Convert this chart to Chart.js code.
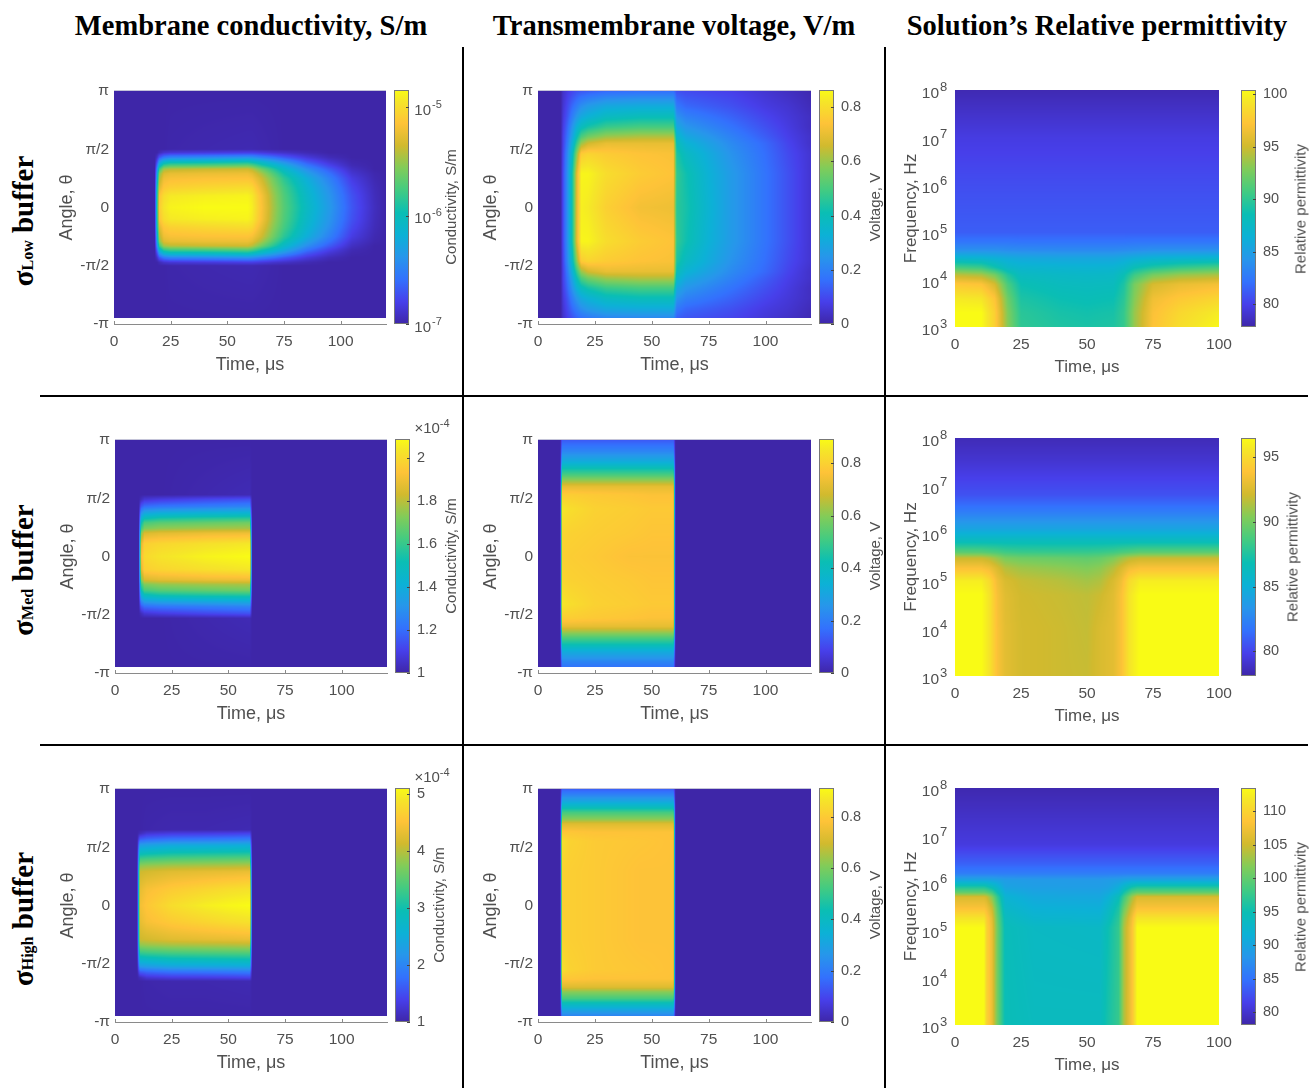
<!DOCTYPE html>
<html>
<head>
<meta charset="utf-8">
<script src="https://cdn.jsdelivr.net/npm/chart.js@4"></script>
<style>
html, body { margin: 0; padding: 0; background: #fff; }
#page { position: relative; width: 1316px; height: 1088px; overflow: hidden; }
#page canvas { position: absolute; }
.txt { position: absolute; white-space: nowrap; transform: translate(-50%, -50%); }
.rule { position: absolute; background: #000; }
</style>
</head>
<body>
<div id="page"></div>
<script>
// tick values and labels
var timeTicks = [0, 25, 50, 75, 100];
var angleTicks = [Math.PI, Math.PI / 2, 0, -Math.PI / 2, -Math.PI];
var angleLabels = ['π', 'π/2', '0', '-π/2', '-π'];
var freqTicks = [1e3, 1e4, 1e5, 1e6, 1e7, 1e8];
var freqExponents = ['3', '4', '5', '6', '7', '8'];
var logCondTicks = [1e-7, 1e-6, 1e-5];
var logCondExponents = ['-7', '-6', '-5'];
var voltTicks = [0, 0.2, 0.4, 0.6, 0.8];
var condMedTicks = [1, 1.2, 1.4, 1.6, 1.8, 2];
var condHighTicks = [1, 2, 3, 4, 5];
var permLowTicks = [80, 85, 90, 95, 100];
var permMedTicks = [80, 85, 90, 95];
var permHighTicks = [80, 85, 90, 95, 100, 105, 110];

var columnTitles = ['Membrane conductivity, S/m', 'Transmembrane voltage, V/m', 'Solution’s Relative permittivity'];
var rowNames = ['Low', 'Med', 'High'];

// parula colour stops
var parulaStops = [
    [0, 62, 38, 168], [0.095, 71, 63, 234], [0.19, 51, 113, 253], [0.286, 39, 150, 235],
    [0.38, 12, 177, 214], [0.476, 10, 190, 180], [0.571, 66, 203, 130], [0.667, 129, 204, 89],
    [0.762, 209, 186, 46], [0.857, 254, 195, 56], [0.952, 245, 230, 40], [1, 249, 251, 21]
];

// low buffer, membrane conductivity (log10 S/m); rows are |angle| / pi
var condLowTimes = [0, 18, 19, 20, 22, 25, 40, 59, 61, 65, 70, 75, 85, 95, 105, 115, 120];
var condLowRows = [0, 0.1, 0.17, 0.25, 0.29, 0.33, 0.36, 0.39, 0.43, 0.47, 0.5, 1];
var condLowValues = [
    [-7, -7, -5.9, -5.1, -4.95, -4.88, -4.84, -4.84, -4.9, -5.15, -5.45, -5.7, -6.05, -6.35, -6.7, -6.93, -7],
    [-7, -7, -5.95, -5.15, -5, -4.93, -4.9, -4.88, -4.93, -5.17, -5.47, -5.72, -6.08, -6.38, -6.72, -6.94, -7],
    [-7, -7, -6, -5.3, -5.12, -5.07, -5.03, -5, -5.03, -5.25, -5.52, -5.76, -6.12, -6.42, -6.76, -6.95, -7],
    [-7, -7, -6.2, -5.45, -5.22, -5.18, -5.16, -5.15, -5.18, -5.35, -5.6, -5.85, -6.2, -6.5, -6.82, -6.97, -7],
    [-7, -7, -6.3, -5.55, -5.3, -5.25, -5.23, -5.22, -5.27, -5.45, -5.7, -5.95, -6.3, -6.58, -6.87, -6.98, -7],
    [-7, -7, -6.45, -5.8, -5.48, -5.42, -5.38, -5.36, -5.42, -5.62, -5.85, -6.08, -6.42, -6.68, -6.92, -7, -7],
    [-7, -7, -6.6, -6.1, -5.8, -5.72, -5.7, -5.65, -5.7, -5.88, -6.05, -6.22, -6.55, -6.78, -6.96, -7, -7],
    [-7, -7, -6.75, -6.35, -6.1, -6.02, -6, -5.95, -6, -6.1, -6.25, -6.4, -6.68, -6.86, -6.98, -7, -7],
    [-7, -7, -6.9, -6.7, -6.55, -6.48, -6.45, -6.4, -6.42, -6.5, -6.58, -6.68, -6.84, -6.95, -7, -7, -7],
    [-7, -7, -7, -6.95, -6.88, -6.85, -6.83, -6.8, -6.8, -6.83, -6.87, -6.9, -6.96, -7, -7, -7, -7],
    [-7, -7, -7, -7, -7, -6.99, -6.98, -6.97, -6.97, -6.98, -6.99, -7, -7, -7, -7, -7, -7],
    [-7, -7, -7, -7, -7, -7, -7, -7, -7, -7, -7, -7, -7, -7, -7, -7, -7]
];

// low buffer, voltage (V)
var voltLowTimes = [0, 10, 11, 13, 15, 17, 19, 22, 30, 45, 59.5, 61, 65, 75, 85, 100, 110, 120];
var voltLowRows = [0, 0.29, 0.46, 0.55, 0.61, 0.69, 0.78, 0.87, 1];
var voltLowValues = [
    [0, 0, 0.1, 0.24, 0.42, 0.68, 0.84, 0.83, 0.77, 0.72, 0.71, 0.46, 0.43, 0.34, 0.26, 0.17, 0.11, 0.05],
    [0, 0, 0.1, 0.24, 0.42, 0.68, 0.85, 0.85, 0.8, 0.76, 0.74, 0.47, 0.42, 0.33, 0.26, 0.17, 0.11, 0.05],
    [0, 0, 0.09, 0.22, 0.37, 0.58, 0.76, 0.78, 0.76, 0.74, 0.73, 0.44, 0.38, 0.31, 0.24, 0.16, 0.1, 0.05],
    [0, 0, 0.08, 0.19, 0.32, 0.47, 0.6, 0.66, 0.7, 0.7, 0.7, 0.4, 0.34, 0.28, 0.22, 0.15, 0.09, 0.04],
    [0, 0, 0.08, 0.17, 0.28, 0.4, 0.5, 0.55, 0.6, 0.62, 0.62, 0.36, 0.3, 0.25, 0.2, 0.13, 0.08, 0.04],
    [0, 0, 0.07, 0.15, 0.24, 0.33, 0.39, 0.43, 0.48, 0.5, 0.5, 0.3, 0.25, 0.21, 0.17, 0.11, 0.07, 0.03],
    [0, 0, 0.06, 0.12, 0.19, 0.25, 0.3, 0.33, 0.38, 0.4, 0.4, 0.24, 0.2, 0.17, 0.14, 0.09, 0.06, 0.03],
    [0, 0, 0.05, 0.1, 0.15, 0.19, 0.23, 0.26, 0.3, 0.31, 0.31, 0.18, 0.15, 0.13, 0.11, 0.07, 0.05, 0.02],
    [0, 0, 0.04, 0.07, 0.09, 0.11, 0.12, 0.13, 0.15, 0.16, 0.16, 0.11, 0.1, 0.09, 0.08, 0.05, 0.03, 0.01]
];

// low buffer, relative permittivity; rows are log10 Hz
var permLowTimes = [0, 10, 15, 20, 25, 40, 50, 60, 64, 68, 75, 85, 100];
var permLowRows = [3, 3.3, 3.6, 3.9, 4.1, 4.25, 4.45, 4.62, 4.8, 5, 6, 7, 8];
var permLowValues = [
    [100.4, 100.4, 98, 93, 90, 89.4, 89.2, 89.4, 90.2, 93.5, 97.2, 98.8, 100.2],
    [100.4, 100.4, 98, 92.8, 89.8, 89.1, 88.9, 89.1, 90.2, 93.5, 97, 98.4, 99.6],
    [99.5, 99.3, 97.3, 92.2, 89.3, 88.6, 88.4, 88.6, 89.8, 93, 96.5, 97.5, 98.3],
    [97.5, 97.2, 95.3, 91, 88.6, 88, 87.9, 88, 89.3, 92.5, 95.3, 96.2, 96.7],
    [94.5, 94, 92.5, 89.5, 87.8, 87.5, 87.4, 87.5, 88.5, 90.5, 92.5, 93.5, 94],
    [91, 90.5, 89, 87.5, 87, 86.8, 86.7, 86.8, 87.3, 88.5, 89.5, 90.3, 91],
    [87, 86.8, 86.4, 86, 85.7, 85.5, 85.5, 85.5, 85.8, 86.2, 86.6, 86.8, 87],
    [84, 84, 84, 83.8, 83.7, 83.6, 83.6, 83.6, 83.7, 83.8, 84, 84, 84],
    [82.4, 82.4, 82.4, 82.4, 82.3, 82.3, 82.3, 82.3, 82.3, 82.4, 82.4, 82.4, 82.4],
    [81.3, 81.3, 81.3, 81.3, 81.3, 81.3, 81.3, 81.3, 81.3, 81.3, 81.3, 81.3, 81.3],
    [80.6, 80.6, 80.6, 80.6, 80.6, 80.6, 80.6, 80.6, 80.6, 80.6, 80.6, 80.6, 80.6],
    [79.7, 79.7, 79.7, 79.7, 79.7, 79.7, 79.7, 79.7, 79.7, 79.7, 79.7, 79.7, 79.7],
    [78.2, 78.2, 78.2, 78.2, 78.2, 78.2, 78.2, 78.2, 78.2, 78.2, 78.2, 78.2, 78.2]
];

// med buffer, conductivity (x 1e-4 S/m)
var condMedTimes = [0, 10.5, 11.5, 13, 20, 40, 59.5, 60.5, 120];
var condMedRows = [0, 0.11, 0.2, 0.24, 0.29, 0.33, 0.37, 0.43, 0.49, 0.53, 1];
var condMedValues = [
    [1, 1, 1.9, 2, 2.03, 2.07, 2.09, 1, 1],
    [1, 1, 1.85, 1.97, 1.99, 2.02, 2.04, 1, 1],
    [1, 1, 1.72, 1.85, 1.87, 1.89, 1.9, 1, 1],
    [1, 1, 1.6, 1.72, 1.75, 1.77, 1.78, 1, 1],
    [1, 1, 1.5, 1.63, 1.66, 1.68, 1.7, 1, 1],
    [1, 1, 1.4, 1.5, 1.54, 1.56, 1.57, 1, 1],
    [1, 1, 1.3, 1.38, 1.41, 1.43, 1.44, 1, 1],
    [1, 1, 1.15, 1.2, 1.22, 1.24, 1.26, 1, 1],
    [1, 1, 1.03, 1.07, 1.09, 1.12, 1.14, 1, 1],
    [1, 1, 1, 1, 1, 1.01, 1.02, 1, 1],
    [1, 1, 1, 1, 1, 1, 1, 1, 1]
];

// med buffer, voltage (V)
var voltMedTimes = [0, 9.8, 10.6, 14, 25, 40, 50, 59.5, 60.5, 120];
var voltMedRows = [0, 0.2, 0.41, 0.53, 0.6, 0.64, 0.7, 0.76, 0.81, 0.9, 1];
var voltMedValues = [
    [0, 0, 0.8, 0.79, 0.78, 0.76, 0.76, 0.76, 0, 0],
    [0, 0, 0.81, 0.8, 0.79, 0.78, 0.77, 0.77, 0, 0],
    [0, 0, 0.85, 0.83, 0.8, 0.79, 0.78, 0.78, 0, 0],
    [0, 0, 0.79, 0.79, 0.78, 0.77, 0.76, 0.76, 0, 0],
    [0, 0, 0.72, 0.72, 0.72, 0.72, 0.72, 0.72, 0, 0],
    [0, 0, 0.64, 0.64, 0.64, 0.64, 0.64, 0.64, 0, 0],
    [0, 0, 0.52, 0.52, 0.52, 0.52, 0.52, 0.52, 0, 0],
    [0, 0, 0.42, 0.42, 0.42, 0.42, 0.42, 0.42, 0, 0],
    [0, 0, 0.33, 0.33, 0.33, 0.33, 0.33, 0.33, 0, 0],
    [0, 0, 0.22, 0.22, 0.22, 0.22, 0.22, 0.22, 0, 0],
    [0, 0, 0.13, 0.13, 0.13, 0.13, 0.13, 0.13, 0, 0]
];

// med buffer, relative permittivity
var permMedTimes = [0, 10, 13, 16, 19, 25, 40, 50, 55, 60, 63, 66, 70, 100];
var permMedRows = [3, 4, 4.7, 5, 5.27, 5.48, 5.6, 5.83, 6.1, 6.46, 6.8, 7.5, 8];
var permMedValues = [
    [96.5, 96.5, 95.5, 93.7, 92.8, 92.2, 92, 91.9, 92.4, 92.8, 93.7, 95.5, 96.5, 96.5],
    [96.5, 96.5, 95.5, 93.7, 92.8, 92.2, 92, 91.8, 92.4, 92.8, 93.7, 95.5, 96.5, 96.5],
    [96.5, 96.5, 95.5, 93.6, 92.7, 92.1, 91.9, 91.7, 92, 92.7, 93.7, 95.5, 96.5, 96.5],
    [95.9, 95.9, 95, 93.3, 92.4, 91.9, 91.5, 91.1, 91.4, 92.4, 93.3, 95, 95.9, 95.9],
    [93.7, 93.7, 93.3, 92.4, 91.5, 91, 90.6, 90.3, 90.6, 91.5, 92.4, 93.3, 93.7, 93.7],
    [91.9, 91.9, 91.5, 90.8, 90.1, 89.8, 89.6, 89.4, 89.6, 90.2, 90.9, 91.5, 91.9, 91.9],
    [89.3, 89.2, 89, 88.8, 88.5, 88.3, 88.2, 88.2, 88.3, 88.5, 88.8, 89, 89.3, 89.3],
    [86.5, 86.5, 86.5, 86.5, 86.5, 86.5, 86.5, 86.5, 86.5, 86.5, 86.5, 86.5, 86.5, 86.5],
    [84.2, 84.2, 84.2, 84.2, 84.2, 84.2, 84.2, 84.2, 84.2, 84.2, 84.2, 84.2, 84.2, 84.2],
    [82.1, 82.1, 82.1, 82.1, 82.1, 82.1, 82.1, 82.1, 82.1, 82.1, 82.1, 82.1, 82.1, 82.1],
    [80.5, 80.5, 80.5, 80.5, 80.5, 80.5, 80.5, 80.5, 80.5, 80.5, 80.5, 80.5, 80.5, 80.5],
    [79.2, 79.2, 79.2, 79.2, 79.2, 79.2, 79.2, 79.2, 79.2, 79.2, 79.2, 79.2, 79.2, 79.2],
    [78.5, 78.5, 78.5, 78.5, 78.5, 78.5, 78.5, 78.5, 78.5, 78.5, 78.5, 78.5, 78.5, 78.5]
];

// high buffer, conductivity (x 1e-4 S/m)
var condHighTimes = [0, 9.8, 11, 14, 25, 40, 50, 59.5, 60.5, 120];
var condHighRows = [0, 0.14, 0.29, 0.34, 0.4, 0.46, 0.52, 0.57, 0.62, 0.65, 1];
var condHighValues = [
    [1, 1, 4.4, 4.55, 4.8, 4.98, 5.05, 5.1, 1, 1],
    [1, 1, 4.3, 4.45, 4.6, 4.72, 4.8, 4.85, 1, 1],
    [1, 1, 4.1, 4.15, 4.25, 4.3, 4.32, 4.35, 1, 1],
    [1, 1, 3.8, 3.85, 3.92, 3.95, 3.97, 4, 1, 1],
    [1, 1, 3.3, 3.35, 3.42, 3.46, 3.48, 3.5, 1, 1],
    [1, 1, 2.75, 2.8, 2.9, 2.93, 2.95, 2.97, 1, 1],
    [1, 1, 2.25, 2.3, 2.42, 2.44, 2.46, 2.48, 1, 1],
    [1, 1, 1.6, 1.7, 1.8, 1.82, 1.85, 1.88, 1, 1],
    [1, 1, 1.1, 1.25, 1.32, 1.34, 1.36, 1.4, 1, 1],
    [1, 1, 1, 1.02, 1.04, 1.04, 1.05, 1.06, 1, 1],
    [1, 1, 1, 1, 1, 1, 1, 1, 1, 1]
];

// high buffer, voltage (V)
var voltHighTimes = [0, 9.8, 10.6, 14, 25, 45, 59.5, 60.5, 120];
var voltHighRows = [0, 0.3, 0.55, 0.63, 0.7, 0.74, 0.8, 0.84, 0.9, 0.96, 1];
var voltHighValues = [
    [0, 0, 0.81, 0.81, 0.8, 0.78, 0.78, 0, 0],
    [0, 0, 0.82, 0.81, 0.8, 0.78, 0.78, 0, 0],
    [0, 0, 0.85, 0.82, 0.8, 0.79, 0.78, 0, 0],
    [0, 0, 0.79, 0.79, 0.78, 0.78, 0.78, 0, 0],
    [0, 0, 0.72, 0.72, 0.72, 0.72, 0.72, 0, 0],
    [0, 0, 0.62, 0.62, 0.62, 0.62, 0.62, 0, 0],
    [0, 0, 0.52, 0.52, 0.52, 0.52, 0.52, 0, 0],
    [0, 0, 0.42, 0.42, 0.42, 0.42, 0.42, 0, 0],
    [0, 0, 0.3, 0.3, 0.3, 0.3, 0.3, 0, 0],
    [0, 0, 0.2, 0.2, 0.2, 0.2, 0.2, 0, 0],
    [0, 0, 0.14, 0.14, 0.14, 0.14, 0.14, 0, 0]
];

// high buffer, relative permittivity
var permHighTimes = [0, 11, 12, 14, 16, 19, 30, 55, 58, 62, 64, 67, 69, 100];
var permHighRows = [3, 5.05, 5.25, 5.47, 5.7, 5.8, 5.92, 6.06, 6.2, 6.4, 6.8, 7.5, 8];
var permHighValues = [
    [113.5, 113.5, 110, 107.1, 101.1, 94.7, 94, 94, 95.8, 97.6, 103.6, 108.2, 113.5, 113.5],
    [113.5, 113.5, 110, 107, 101, 94.5, 93.5, 93.3, 95, 97.5, 103.5, 108.2, 113.5, 113.5],
    [111.7, 111.7, 109.5, 106.5, 100.5, 94, 92.5, 92.3, 94, 97, 102.5, 107.5, 111.7, 111.7],
    [108.2, 108.2, 107.5, 105, 99.5, 93, 91.5, 91.3, 93, 96, 100.5, 105.5, 108.2, 108.2],
    [105.7, 105.7, 105, 102, 97.5, 92, 90.5, 90.3, 91.5, 94.5, 98, 103, 105.7, 105.7],
    [100, 100, 99.5, 98, 95, 91, 89.9, 89.8, 90.5, 92.5, 95.5, 99, 100, 100],
    [95.8, 95.8, 95.3, 94, 92.5, 89.8, 89.2, 89.1, 89.5, 91, 92.8, 95, 95.8, 95.8],
    [90, 90, 90, 89.8, 89.5, 89, 88.8, 88.7, 88.9, 89.2, 89.6, 90, 90, 90],
    [85.9, 85.9, 85.9, 85.9, 85.9, 85.9, 85.9, 85.9, 85.9, 85.9, 85.9, 85.9, 85.9, 85.9],
    [83.8, 83.8, 83.8, 83.8, 83.8, 83.8, 83.8, 83.8, 83.8, 83.8, 83.8, 83.8, 83.8, 83.8],
    [80.9, 80.9, 80.9, 80.9, 80.9, 80.9, 80.9, 80.9, 80.9, 80.9, 80.9, 80.9, 80.9, 80.9],
    [79.5, 79.5, 79.5, 79.5, 79.5, 79.5, 79.5, 79.5, 79.5, 79.5, 79.5, 79.5, 79.5, 79.5],
    [78.5, 78.5, 78.5, 78.5, 78.5, 78.5, 78.5, 78.5, 78.5, 78.5, 78.5, 78.5, 78.5, 78.5]
];

// angle where the simulated data stops, just above the -pi tick
var dataAngleEnd = -2.97;

var sans = '"Liberation Sans", Arial, sans-serif';
var serif = '"Liberation Serif", serif';
var tickColor = '#505050';
var page = document.getElementById('page');

var panels = [
    { row: 0, col: 0, times: condLowTimes, rows: condLowRows, values: condLowValues, cmin: -7, cmax: -4.84,
      barMin: 1e-7, barMax: 1.445e-5, barLog: true, barTicks: logCondTicks, barExponents: logCondExponents, barTitle: 'Conductivity, S/m', titleX: 450 },
    { row: 0, col: 1, times: voltLowTimes, rows: voltLowRows, values: voltLowValues, cmin: 0, cmax: 0.863,
      barTicks: voltTicks, barTitle: 'Voltage, V', titleX: 874 },
    { row: 0, col: 2, times: permLowTimes, rows: permLowRows, values: permLowValues, cmin: 77.85, cmax: 100.4,
      barTicks: permLowTicks, barTitle: 'Relative permittivity', titleX: 1300 },
    { row: 1, col: 0, times: condMedTimes, rows: condMedRows, values: condMedValues, cmin: 1, cmax: 2.09,
      barTicks: condMedTicks, barTitle: 'Conductivity, S/m', titleX: 450, exponent: true },
    { row: 1, col: 1, times: voltMedTimes, rows: voltMedRows, values: voltMedValues, cmin: 0, cmax: 0.893,
      barTicks: voltTicks, barTitle: 'Voltage, V', titleX: 874 },
    { row: 1, col: 2, times: permMedTimes, rows: permMedRows, values: permMedValues, cmin: 78.1, cmax: 96.47,
      barTicks: permMedTicks, barTitle: 'Relative permittivity', titleX: 1292 },
    { row: 2, col: 0, times: condHighTimes, rows: condHighRows, values: condHighValues, cmin: 1, cmax: 5.1,
      barTicks: condHighTicks, barTitle: 'Conductivity, S/m', titleX: 438, exponent: true },
    { row: 2, col: 1, times: voltHighTimes, rows: voltHighRows, values: voltHighValues, cmin: 0, cmax: 0.912,
      barTicks: voltTicks, barTitle: 'Voltage, V', titleX: 874 },
    { row: 2, col: 2, times: permHighTimes, rows: permHighRows, values: permHighValues, cmin: 78.1, cmax: 113.5,
      barTicks: permHighTicks, barTitle: 'Relative permittivity', titleX: 1300 }
];

function parula(f) {
    f = Math.max(0, Math.min(1, f));
    var i = 0;
    while (i < parulaStops.length - 2 && f > parulaStops[i + 1][0]) i++;
    var a = parulaStops[i], b = parulaStops[i + 1], k = (f - a[0]) / (b[0] - a[0]);
    return [a[1] + (b[1] - a[1]) * k, a[2] + (b[2] - a[2]) * k, a[3] + (b[3] - a[3]) * k];
}

// index of grid interval and position inside it
function locate(list, v) {
    var i = 0;
    while (i < list.length - 2 && v > list[i + 1]) i++;
    var k = (v - list[i]) / (list[i + 1] - list[i]);
    return [i, Math.max(0, Math.min(1, k))];
}

// base 10 label with a raised exponent, placed from the scale's tick pixel
function powerLabel(ctx, baseRight, y, exponent, baseSize, expSize, rise) {
    ctx.fillStyle = tickColor;
    ctx.textBaseline = 'middle';
    ctx.textAlign = 'right';
    ctx.font = baseSize + 'px ' + sans;
    ctx.fillText('10', baseRight, y + rise);
    ctx.textAlign = 'left';
    ctx.font = expSize + 'px ' + sans;
    ctx.fillText(exponent, baseRight + 1, y - rise + 1);
}

// paints the value table with interp shading through the chart's own scales
function heatPlugin(p, isFreq) {
    return {
        id: 'heat',
        beforeDatasetsDraw: function (chart) {
            var ctx = chart.ctx, area = chart.chartArea, xs = chart.scales.x, ys = chart.scales.y;
            var left = Math.round(area.left), top = Math.round(area.top);
            var w = Math.round(area.right) - left, h = Math.round(area.bottom) - top;
            var img = ctx.createImageData(w, h), range = p.cmax - p.cmin;
            for (var py = 0; py < h; py++) {
                var yv = ys.getValueForPixel(top + py + 0.5);
                if (!isFreq && yv < dataAngleEnd) continue;
                var r = locate(p.rows, isFreq ? Math.log10(yv) : Math.abs(yv) / Math.PI);
                var r0 = p.values[r[0]], r1 = p.values[r[0] + 1];
                for (var px = 0; px < w; px++) {
                    var t = locate(p.times, xs.getValueForPixel(left + px + 0.5));
                    var a = r0[t[0]] + (r0[t[0] + 1] - r0[t[0]]) * t[1];
                    var b = r1[t[0]] + (r1[t[0] + 1] - r1[t[0]]) * t[1];
                    var c = parula((a + (b - a) * r[1] - p.cmin) / range);
                    var o = (py * w + px) * 4;
                    img.data[o] = c[0]; img.data[o + 1] = c[1]; img.data[o + 2] = c[2]; img.data[o + 3] = 255;
                }
            }
            ctx.putImageData(img, left, top);
        },
        afterDraw: function (chart) {
            var ctx = chart.ctx, area = chart.chartArea, xs = chart.scales.x, ys = chart.scales.y;
            ctx.save();
            if (isFreq) {
                ys.ticks.forEach(function (tk, i) {
                    powerLabel(ctx, area.left - 16, ys.getPixelForValue(tk.value), freqExponents[i], 15.5, 13, 4);
                });
            } else {
                ctx.strokeStyle = '#8a8a8a';
                ctx.lineWidth = 1;
                ctx.beginPath();
                xs.ticks.forEach(function (tk) {
                    var x = Math.round(xs.getPixelForValue(tk.value)) + 0.5;
                    ctx.moveTo(x, area.bottom);
                    ctx.lineTo(x, area.bottom - 3);
                });
                ctx.stroke();
                ctx.strokeStyle = '#c4c4d8';
                ctx.beginPath();
                ctx.moveTo(area.left, area.top - 0.5);
                ctx.lineTo(area.right, area.top - 0.5);
                ctx.stroke();
            }
            ctx.restore();
        }
    };
}

// small ticks and frame on the colour bar
function barPlugin(p) {
    return {
        id: 'barFrame',
        afterDraw: function (chart) {
            var ctx = chart.ctx, area = chart.chartArea, ys = chart.scales.y;
            ctx.save();
            ctx.strokeStyle = '#777';
            ctx.lineWidth = 1;
            ctx.strokeRect(area.left + 0.5, area.top + 0.5, area.right - area.left - 1, area.bottom - area.top - 1);
            ctx.strokeStyle = '#444';
            ctx.beginPath();
            ys.ticks.forEach(function (tk) {
                var y = Math.round(ys.getPixelForValue(tk.value)) + 0.5;
                ctx.moveTo(area.right, y);
                ctx.lineTo(area.right - 3, y);
            });
            ctx.stroke();
            if (p.barExponents) {
                ys.ticks.forEach(function (tk, i) {
                    powerLabel(ctx, area.right + 22, ys.getPixelForValue(tk.value), p.barExponents[i], 15, 11, 3.5);
                });
            }
            ctx.restore();
        }
    };
}

function newCanvas(left, top, w, h) {
    var c = document.createElement('canvas');
    c.width = w; c.height = h;
    c.style.left = left + 'px'; c.style.top = top + 'px';
    c.style.width = w + 'px'; c.style.height = h + 'px';
    page.appendChild(c);
    return c;
}

function addText(html, cx, cy, css, rotate) {
    var d = document.createElement('div');
    d.className = 'txt';
    d.innerHTML = html;
    d.style.cssText = 'left:' + cx + 'px;top:' + cy + 'px;' + css + (rotate ? 'transform:translate(-50%,-50%) rotate(-90deg);' : '');
    page.appendChild(d);
}

function addRule(x, y, w, h) {
    var d = document.createElement('div');
    d.className = 'rule';
    d.style.cssText = 'left:' + x + 'px;top:' + y + 'px;width:' + w + 'px;height:' + h + 'px;';
    page.appendChild(d);
}

function drawPanel(p) {
    var isFreq = p.col === 2;
    var x0 = p.col === 0 ? (p.row === 0 ? 114 : 115) : (p.col === 1 ? 538 : 955);
    var plotW = p.col === 0 ? 272 : (p.col === 1 ? 273 : 264);
    var y0 = isFreq ? [90, 438, 788][p.row] : [91, 440, 789][p.row];
    var y1 = isFreq ? [327, 676, 1025][p.row] : [324, 673, 1022][p.row];
    var titleSize = isFreq ? 17 : 18;
    var left = isFreq ? 54 : 58, bottom = isFreq ? 51 : 52, right = 24, topPad = 20;

    var points = [];
    p.rows.forEach(function (r, j) {
        p.times.forEach(function (t, i) {
            points.push({ x: t, y: isFreq ? Math.pow(10, r) : r * Math.PI, v: p.values[j][i] });
        });
    });

    new Chart(newCanvas(x0 - left, y0 - topPad, left + plotW + right, topPad + (y1 - y0) + bottom), {
        type: 'scatter',
        data: { datasets: [{ data: points, pointRadius: 0, showLine: false }] },
        options: {
            responsive: false,
            animation: false,
            events: [],
            layout: { padding: { top: topPad, right: right } },
            plugins: { legend: { display: false }, tooltip: { enabled: false } },
            scales: {
                x: {
                    type: 'linear',
                    min: 0,
                    max: isFreq ? 100 : 120,
                    grid: { display: false, drawTicks: false },
                    border: { display: !isFreq, color: '#8a8a8a' },
                    afterBuildTicks: function (s) { s.ticks = timeTicks.map(function (v) { return { value: v }; }); },
                    afterFit: function (s) { s.height = bottom; },
                    ticks: { autoSkip: false, maxRotation: 0, padding: 8, color: tickColor, font: { family: sans, size: 15.5 } },
                    title: { display: true, text: 'Time, μs', color: tickColor, padding: 0, font: { family: sans, size: titleSize } }
                },
                y: {
                    type: isFreq ? 'logarithmic' : 'linear',
                    min: isFreq ? 1e3 : -Math.PI,
                    max: isFreq ? 1e8 : Math.PI,
                    grid: { display: false, drawTicks: false },
                    border: { display: !isFreq, color: '#8a8a8a' },
                    afterBuildTicks: function (s) {
                        s.ticks = (isFreq ? freqTicks : angleTicks).map(function (v) { return { value: v }; });
                    },
                    afterFit: function (s) { s.width = left; },
                    ticks: {
                        display: !isFreq,
                        autoSkip: false,
                        padding: 5,
                        color: tickColor,
                        font: { family: sans, size: 15.5 },
                        callback: function (v, i) { return isFreq ? '' : angleLabels[i]; }
                    },
                    title: { display: true, text: isFreq ? 'Frequency, Hz' : 'Angle, θ', color: tickColor, padding: 0, font: { family: sans, size: titleSize } }
                }
            }
        },
        plugins: [heatPlugin(p, isFreq)]
    });

    // colour bar
    var barX = p.col === 0 ? (p.row === 0 ? 394 : 395) : (p.col === 1 ? 819 : 1241);
    var barW = 15, barRight = 60, barPad = 20;
    var barTop = isFreq ? y0 : y0 - 1;
    var barMin = p.barLog ? p.barMin : p.cmin, barMax = p.barLog ? p.barMax : p.cmax;
    new Chart(newCanvas(barX, barTop - barPad, barW + barRight, (y1 - barTop) + barPad * 2), {
        type: 'bar',
        data: {
            labels: [''],
            datasets: [{
                data: [[barMin, barMax]],
                barPercentage: 1,
                categoryPercentage: 1,
                backgroundColor: function (c) {
                    var a = c.chart.chartArea;
                    if (!a) return '#3e26a8';
                    var g = c.chart.ctx.createLinearGradient(0, a.bottom, 0, a.top);
                    parulaStops.forEach(function (s) { g.addColorStop(s[0], 'rgb(' + s[1] + ',' + s[2] + ',' + s[3] + ')'); });
                    return g;
                }
            }]
        },
        options: {
            responsive: false,
            animation: false,
            events: [],
            layout: { padding: { top: barPad, bottom: barPad } },
            plugins: { legend: { display: false }, tooltip: { enabled: false } },
            scales: {
                x: { display: false },
                y: {
                    type: p.barLog ? 'logarithmic' : 'linear',
                    position: 'right',
                    min: barMin,
                    max: barMax,
                    grid: { display: false, drawTicks: false },
                    border: { display: false },
                    afterBuildTicks: function (s) { s.ticks = p.barTicks.map(function (v) { return { value: v }; }); },
                    afterFit: function (s) { s.width = barRight; },
                    ticks: {
                        display: !p.barLog,
                        autoSkip: false,
                        padding: 7,
                        color: tickColor,
                        font: { family: sans, size: 14.5 },
                        callback: function (v, i) { return String(p.barTicks[i]); }
                    }
                }
            }
        },
        plugins: [barPlugin(p)]
    });

    addText(p.barTitle, p.titleX, (barTop + y1) / 2, 'font:15px ' + sans + ';color:' + tickColor + ';', true);
    if (p.exponent) {
        addText('×10<sup style="font-size:11px;line-height:0">-4</sup>', barX + 37, y0 - 13, 'font:15px ' + sans + ';color:' + tickColor + ';', false);
    }
}

// column headings, row names and the separating rules
[251, 674, 1097].forEach(function (cx, i) {
    addText(columnTitles[i], cx, 26, 'font:bold 28.5px ' + serif + ';color:#000;', false);
});
[221, 570, 919].forEach(function (cy, i) {
    addText('σ<span style="font-size:16px">' + rowNames[i] + '</span> buffer', 23, cy, 'font:bold 29px ' + serif + ';color:#000;', true);
});
addRule(462, 47, 2, 1041);
addRule(884, 47, 2, 1041);
addRule(40, 395, 1268, 2);
addRule(40, 744, 1268, 2);

panels.forEach(drawPanel);
</script>
</body>
</html>
